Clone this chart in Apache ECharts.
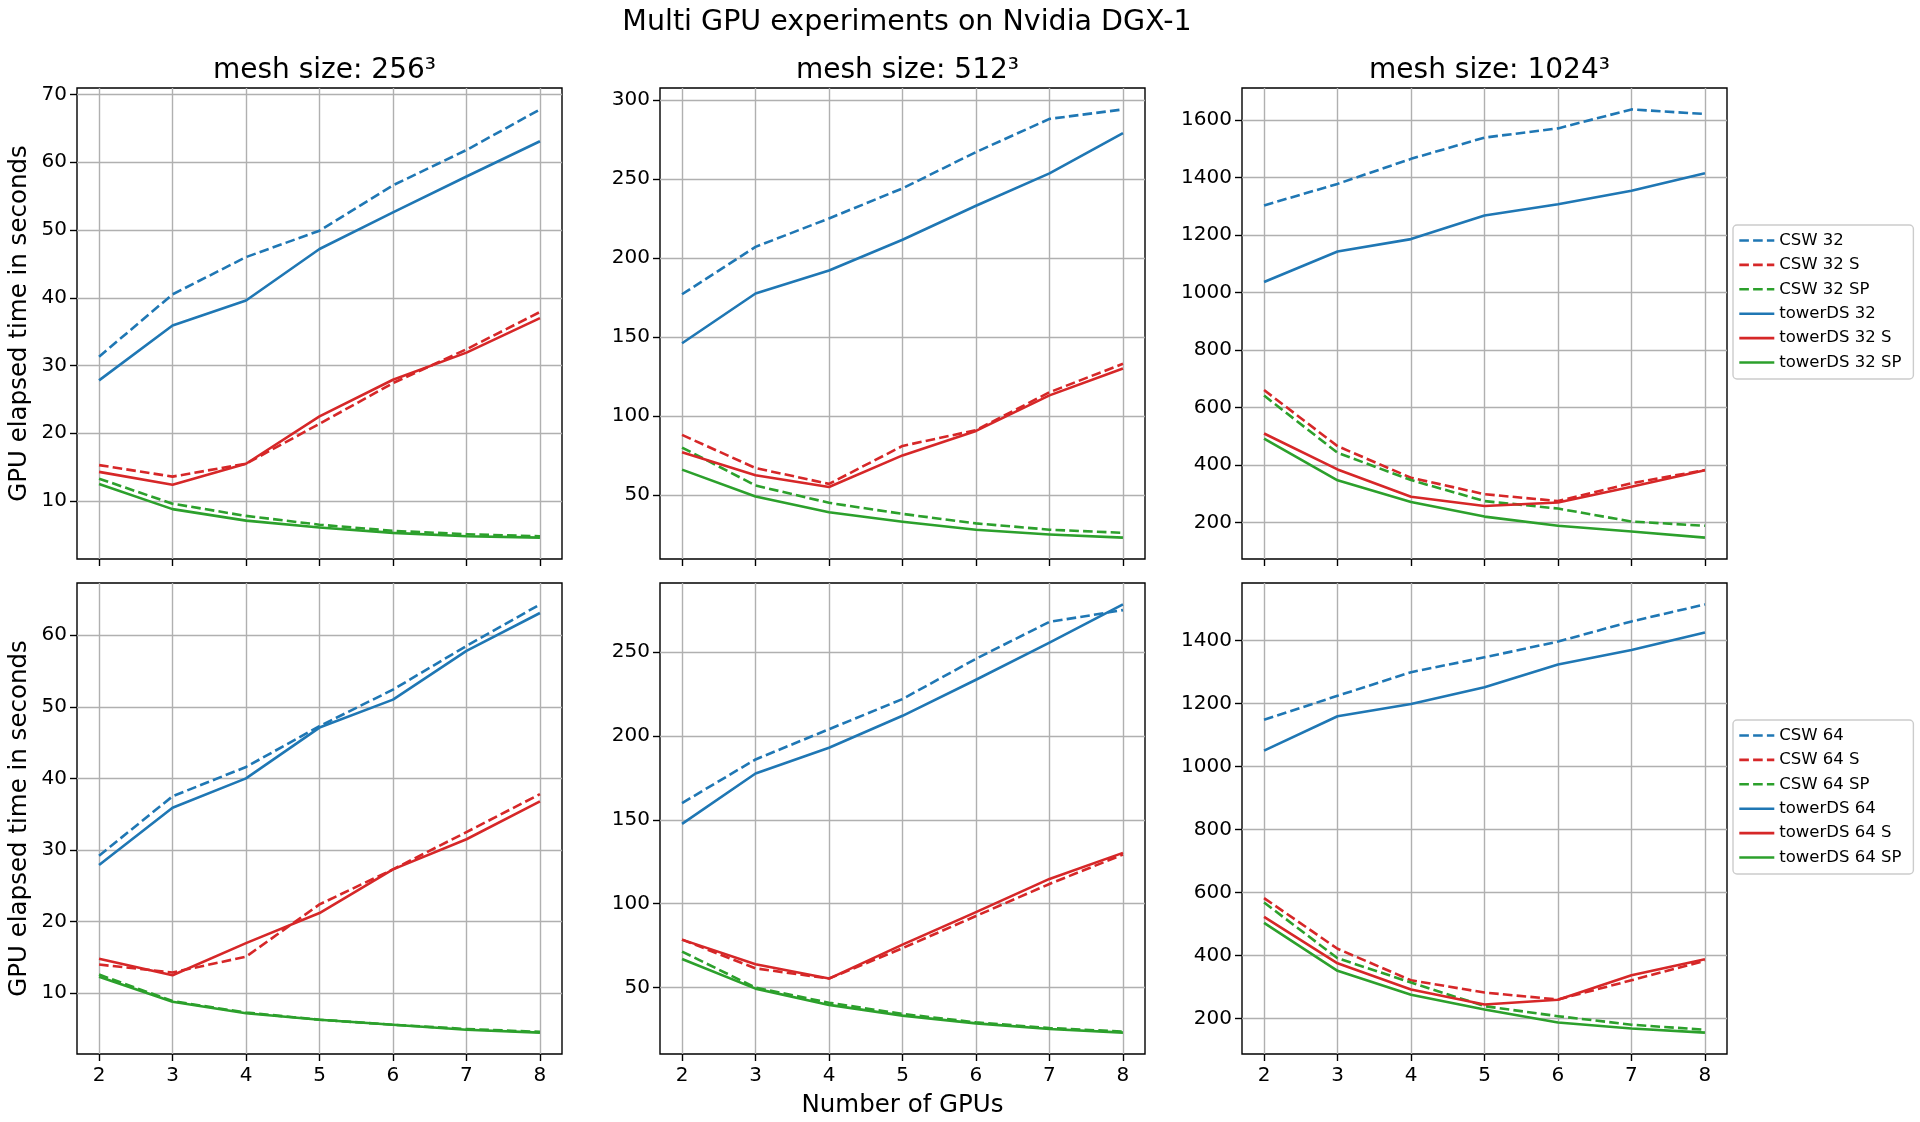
<!DOCTYPE html>
<html>
<head>
<meta charset="utf-8">
<script src="https://cdn.jsdelivr.net/npm/echarts@6/dist/echarts.min.js"></script>
<style>
html,body{margin:0;padding:0;background:#fff;}
#chart{width:1920px;height:1122px;}
</style>
</head>
<body>
<div id="chart"></div>
<script>
// ---------- data ----------
const gpus = [2, 3, 4, 5, 6, 7, 8];
const xTicks = [2, 3, 4, 5, 6, 7, 8];

const suptitleText = 'Multi GPU experiments on Nvidia DGX-1';
const panelTitles = ['mesh size: 256³', 'mesh size: 512³', 'mesh size: 1024³'];
const yAxisTitle = 'GPU elapsed time in seconds';
const xAxisTitle = 'Number of GPUs';

const names32 = ['CSW 32', 'CSW 32 S', 'CSW 32 SP', 'towerDS 32', 'towerDS 32 S', 'towerDS 32 SP'];
const names64 = ['CSW 64', 'CSW 64 S', 'CSW 64 SP', 'towerDS 64', 'towerDS 64 S', 'towerDS 64 SP'];

// mesh 256, block 32
const m256_csw32    = [31.3, 40.5, 46.0, 49.9, 56.6, 61.8, 67.8];
const m256_csw32S   = [15.3, 13.6, 15.5, 21.4, 27.4, 32.4, 37.9];
const m256_csw32SP  = [13.3, 9.6, 7.8, 6.5, 5.6, 5.1, 4.8];
const m256_tow32    = [27.8, 35.9, 39.6, 47.2, 52.6, 57.9, 63.1];
const m256_tow32S   = [14.3, 12.4, 15.5, 22.5, 27.9, 31.9, 37.0];
const m256_tow32SP  = [12.5, 8.8, 7.1, 6.1, 5.3, 4.8, 4.6];
// mesh 512, block 32
const m512_csw32    = [177, 207, 225, 244, 267, 288, 294];
const m512_csw32S   = [88, 67, 57, 81, 91, 115, 133];
const m512_csw32SP  = [80, 56, 45, 38, 32, 28, 26];
const m512_tow32    = [146, 177.5, 192, 211.5, 233, 253.5, 279];
const m512_tow32S   = [77, 62.5, 55, 75, 90.5, 113, 130];
const m512_tow32SP  = [66, 49, 39, 33, 28, 25, 23];
// mesh 1024, block 32
const m1024_csw32   = [1303, 1378, 1465, 1539, 1571, 1637, 1621];
const m1024_csw32S  = [661, 466, 356, 299, 275, 337, 383];
const m1024_csw32SP = [642, 443, 348, 275, 249, 204, 189];
const m1024_tow32   = [1037, 1143, 1186, 1268, 1307, 1354, 1415];
const m1024_tow32S  = [510, 385, 290, 258, 270, 325, 382];
const m1024_tow32SP = [492, 347, 272, 221, 189, 169, 148];
// mesh 256, block 64
const m256_csw64    = [29.2, 37.5, 41.6, 47.3, 52.4, 58.5, 64.3];
const m256_csw64S   = [14.0, 12.9, 15.1, 22.4, 27.3, 32.5, 37.8];
const m256_csw64SP  = [12.6, 8.9, 7.3, 6.3, 5.6, 5.0, 4.6];
const m256_tow64    = [27.9, 35.9, 40.0, 47.1, 51.0, 57.8, 63.1];
const m256_tow64S   = [14.8, 12.5, 17.0, 21.2, 27.3, 31.5, 36.8];
const m256_tow64SP  = [12.3, 8.8, 7.2, 6.3, 5.6, 4.9, 4.5];
// mesh 512, block 64
const m512_csw64    = [160, 186, 204, 222, 246, 268, 275];
const m512_csw64S   = [78.6, 61.5, 55.4, 73.5, 92.7, 111.8, 129.3];
const m512_csw64SP  = [71.5, 50, 41, 34.3, 29.3, 25.9, 23.8];
const m512_tow64    = [147.6, 177.6, 193, 212, 233.5, 255.6, 278.4];
const m512_tow64S   = [78.6, 63.9, 55.4, 75.6, 95, 114.8, 130.3];
const m512_tow64SP  = [67.1, 49.4, 39.7, 33.3, 28.7, 25.3, 23.2];
// mesh 1024, block 64
const m1024_csw64   = [1148, 1224, 1299, 1346, 1396, 1460, 1514];
const m1024_csw64S  = [582, 421, 321, 282, 260, 321, 383];
const m1024_csw64SP = [568, 391, 314, 239, 207, 180, 164];
const m1024_tow64   = [1050, 1159, 1198, 1251, 1323, 1369, 1425];
const m1024_tow64S  = [522, 375, 292, 244, 259, 337, 388];
const m1024_tow64SP = [503, 351, 275, 228, 187, 168, 155];

// y tick labels per panel
const yTicks256_32  = [10, 20, 30, 40, 50, 60, 70];
const yTicks512_32  = [50, 100, 150, 200, 250, 300];
const yTicks1024_32 = [200, 400, 600, 800, 1000, 1200, 1400, 1600];
const yTicks256_64  = [10, 20, 30, 40, 50, 60];
const yTicks512_64  = [50, 100, 150, 200, 250];
const yTicks1024_64 = [200, 400, 600, 800, 1000, 1200, 1400];

// ---------- layout / styles ----------
const FONT = 'DejaVu Sans';
const colors = ['#1f77b4', '#d62728', '#2ca02c', '#1f77b4', '#d62728', '#2ca02c'];
const dashed = [true, true, true, false, false, false];
const DASH = [9.6, 4.2];
const LW = 2.6;

const panels = [
  { row: 0, col: 0, names: names32, yTicks: yTicks256_32,  data: [m256_csw32, m256_csw32S, m256_csw32SP, m256_tow32, m256_tow32S, m256_tow32SP] },
  { row: 0, col: 1, names: names32, yTicks: yTicks512_32,  data: [m512_csw32, m512_csw32S, m512_csw32SP, m512_tow32, m512_tow32S, m512_tow32SP] },
  { row: 0, col: 2, names: names32, yTicks: yTicks1024_32, data: [m1024_csw32, m1024_csw32S, m1024_csw32SP, m1024_tow32, m1024_tow32S, m1024_tow32SP] },
  { row: 1, col: 0, names: names64, yTicks: yTicks256_64,  data: [m256_csw64, m256_csw64S, m256_csw64SP, m256_tow64, m256_tow64S, m256_tow64SP] },
  { row: 1, col: 1, names: names64, yTicks: yTicks512_64,  data: [m512_csw64, m512_csw64S, m512_csw64SP, m512_tow64, m512_tow64S, m512_tow64SP] },
  { row: 1, col: 2, names: names64, yTicks: yTicks1024_64, data: [m1024_csw64, m1024_csw64S, m1024_csw64SP, m1024_tow64, m1024_tow64S, m1024_tow64SP] }
];

const colLeft = [77, 660, 1242];
const rowTop = [88, 583];
const GW = 485, GH = 471;

const margin5 = v => v.min - (v.max - v.min) * 0.05;
const margin5max = v => v.max + (v.max - v.min) * 0.05;
const plain = v => String(v);

const grids = [], xAxes = [], yAxes = [], series = [];
panels.forEach((p, i) => {
  grids.push({
    left: colLeft[p.col], top: rowTop[p.row], width: GW, height: GH,
    show: true, borderColor: '#000', borderWidth: 1.4, backgroundColor: 'transparent',
    containLabel: false
  });
  xAxes.push({
    type: 'value', gridIndex: i, min: margin5, max: margin5max,
    axisLine: { show: false },
    axisTick: { show: true, length: 7, lineStyle: { color: '#000', width: 1.4 }, customValues: xTicks },
    axisLabel: { show: p.row === 1, customValues: xTicks, formatter: plain, color: '#000', fontFamily: FONT, fontSize: 20, margin: 12 },
    splitLine: { show: true, lineStyle: { color: '#b0b0b0', width: 1.4 } },
    name: (p.row === 1 && p.col === 1) ? xAxisTitle : '',
    nameLocation: 'middle', nameGap: 39,
    nameTextStyle: { color: '#000', fontFamily: FONT, fontSize: 24.5 }
  });
  yAxes.push({
    type: 'value', gridIndex: i, min: margin5, max: margin5max, scale: true,
    axisLine: { show: false },
    axisTick: { show: true, length: 7, lineStyle: { color: '#000', width: 1.4 }, customValues: p.yTicks },
    axisLabel: { customValues: p.yTicks, formatter: plain, color: '#000', fontFamily: FONT, fontSize: 20, margin: 10 },
    splitLine: { show: true, lineStyle: { color: '#b0b0b0', width: 1.4 } },
    name: p.col === 0 ? yAxisTitle : '',
    nameLocation: 'middle', nameGap: 45, nameRotate: 90,
    nameTextStyle: { color: '#000', fontFamily: FONT, fontSize: 24.5 }
  });
  p.data.forEach((arr, k) => {
    series.push({
      type: 'line', name: p.names[k], xAxisIndex: i, yAxisIndex: i,
      data: gpus.map((g, j) => [g, arr[j]]),
      symbol: 'none', smooth: false,
      color: colors[k],
      lineStyle: { color: colors[k], width: LW, type: dashed[k] ? DASH : 'solid', cap: 'butt', join: 'round' },
      z: 2 + k
    });
  });
});

const titles = [{
  text: suptitleText, left: 902, top: 3, textAlign: 'center',
  textStyle: { fontFamily: FONT, fontSize: 28.5, fontWeight: 'normal', color: '#000' }
}];
panelTitles.forEach((t, c) => {
  titles.push({
    text: t, left: colLeft[c] + GW / 2, top: 52, textAlign: 'center',
    textStyle: { fontFamily: FONT, fontSize: 28, fontWeight: 'normal', color: '#000' }
  });
});

function makeLegend(names, top) {
  return {
    data: names.map((n, k) => ({
      name: n,
      lineStyle: { color: colors[k], width: LW, type: dashed[k] ? DASH : 'solid' },
      itemStyle: { color: colors[k], opacity: 0 }
    })),
    orient: 'vertical', left: 1733, top: top,
    itemWidth: 35, itemHeight: 14, itemGap: 7.4, itemTextGap: 12,
    padding: [7, 12, 8, 5],
    backgroundColor: 'rgba(255,255,255,0.8)',
    borderColor: '#cccccc', borderWidth: 1.4, borderRadius: 4,
    textStyle: { fontFamily: FONT, fontSize: 16.5, color: '#000' },
    selectedMode: false
  };
}

const option = {
  animation: false,
  backgroundColor: '#fff',
  title: titles,
  legend: [makeLegend(names32, 225), makeLegend(names64, 720)],
  grid: grids,
  xAxis: xAxes,
  yAxis: yAxes,
  series: series
};

const chart = echarts.init(document.getElementById('chart'), null, { renderer: 'canvas' });
chart.setOption(option);
</script>
</body>
</html>
